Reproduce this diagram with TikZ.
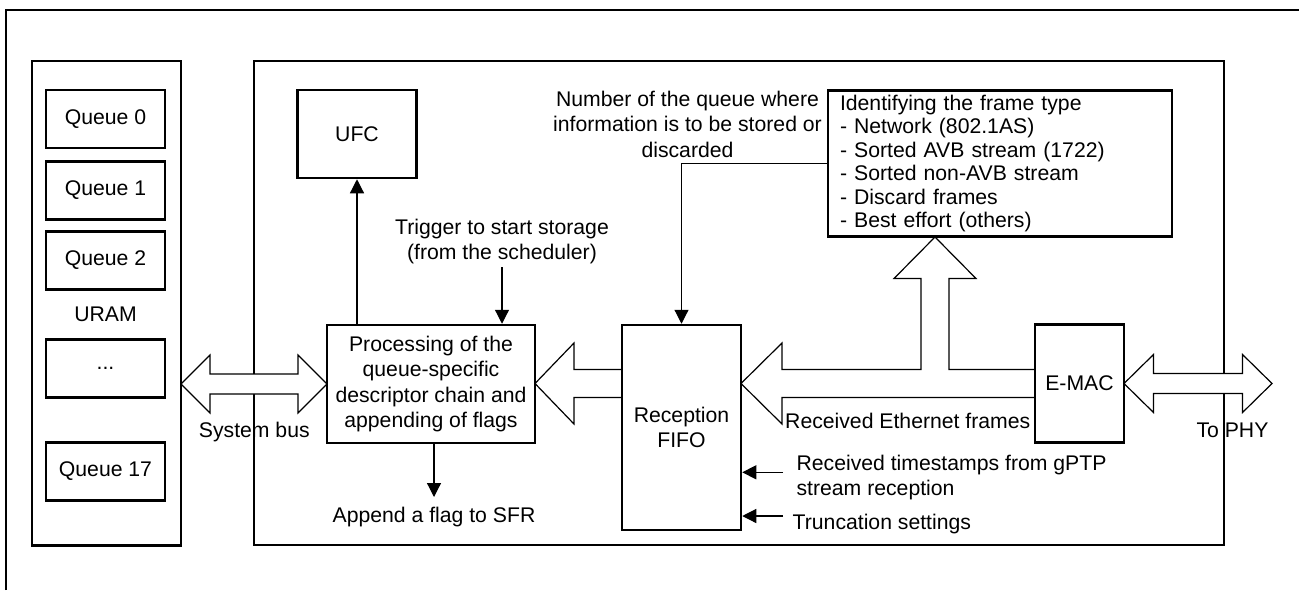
\documentclass[tikz,border=0pt]{standalone}
\usepackage{fontspec}
\setmainfont{Liberation Sans}
\usetikzlibrary{arrows.meta}
\begin{document}
\begin{tikzpicture}[x=1pt,y=-1pt,
  every node/.style={font=\fontsize{21.2}{25.5}\selectfont, inner sep=0pt},
  box/.style={draw, line width=2.5pt, inner sep=0pt, align=center},
  conn/.style={line width=1.2pt, -{Triangle[length=14pt,width=14pt]}},
  hollow/.style={draw, fill=white, line width=1.2pt, line join=miter},
  frameline/.style={line width=2.6pt}]
\useasboundingbox (0,0) rectangle (1299,590);

% outer frame (top and left edges)
\draw[frameline] (6,590) -- (6,10) -- (1299,10);

% containers
\node[box, minimum width=149pt, minimum height=484.5pt] (uram) at (106.5,303.25) {};
\node[box, minimum width=970pt, minimum height=484pt] (main) at (739,303) {};

% hollow (block) arrows
\coordinate (busL) at (181,384);
\coordinate (busR) at (327,384);
\draw[hollow] (busL) -- (210,355) -- (210,374) -- (298,374) -- (298,355) -- (busR)
  -- (298,413) -- (298,394) -- (210,394) -- (210,413) -- cycle;

\coordinate (fpTip) at (535,383.5);
\draw[hollow] (fpTip) -- (574,343) -- (574,369.5) -- (622,369.5) -- (622,397.5)
  -- (574,397.5) -- (574,424) -- cycle;

\coordinate (efTip) at (741,383.5);
\coordinate (upTip) at (935,237);
\draw[hollow] (efTip) -- (782,343) -- (782,369.5) -- (921,369.5) -- (921,278.5)
  -- (894,278.5) -- (upTip) -- (976,278.5) -- (949,278.5) -- (949,369.5)
  -- (1035,369.5) -- (1035,397.5) -- (782,397.5) -- (782,424) -- cycle;

\coordinate (phyL) at (1124,383.5);
\coordinate (phyR) at (1272,383.5);
\draw[hollow] (phyL) -- (1153.5,354.5) -- (1153.5,373.5) -- (1242.5,373.5) -- (1242.5,354.5)
  -- (phyR) -- (1242.5,412.5) -- (1242.5,393.5) -- (1153.5,393.5) -- (1153.5,412.5) -- cycle;

% URAM content
\node[box, minimum width=119pt, minimum height=58pt] (q0) at (105.5,119) {Queue 0};
\node[box, minimum width=119pt, minimum height=58pt] (q1) at (105.5,190.5) {Queue 1};
\node[box, minimum width=119pt, minimum height=58pt] (q2) at (105.5,260.5) {Queue 2};
\node (uramlbl) at (105.5,314) {URAM};
\node[box, minimum width=119pt, minimum height=58pt] (qd) at (105.5,368.5) {...};
\node[box, minimum width=119pt, minimum height=58pt] (q17) at (105.5,471.5) {Queue 17};

% blocks
\node[box, minimum width=119pt, minimum height=88pt] (ufc) at (357,134) {UFC};
\node[box, minimum width=208pt, minimum height=118pt] (proc) at (431,384)
  {Processing of the\\queue-specific\\descriptor chain and\\appending of flags};
\node[box, minimum width=119pt, minimum height=205pt] (fifo) at (681.5,427.5) {Reception\\FIFO};
\node[box, minimum width=344pt, minimum height=146pt, align=left, text width=320pt,
  inner xsep=12pt, font=\fontsize{21.2}{23.5}\selectfont] (ftype) at (1000,163.7)
  {Identifying the frame type\\- Network (802.1AS)\\- Sorted AVB stream (1722)\\- Sorted non-AVB stream\\- Discard frames\\- Best effort (others)};
\node[box, minimum width=89pt, minimum height=118pt] (emac) at (1079.5,383.3) {E-MAC};

% labels
\node[align=center] (numq) at (687.5,124) {Number of the queue where\\information is to be stored or\\discarded};
\node[align=center] (trig) at (502,241.5) {Trigger to start storage\\(from the scheduler)};
\node (append) at (434,517) {Append a flag to SFR};
\node (sysbus) at (254.3,432) {System bus};
\node (tophy) at (1232.5,430) {To PHY};
\node[anchor=west] (rxeth) at (785,421) {Received Ethernet frames};
\node[anchor=west, align=left] (ts) at (796.4,477.3) {Received timestamps from gPTP\\stream reception};
\node[anchor=west] (trunc) at (792.5,523.7) {Truncation settings};

% connectors
\draw[conn] (ufc.south |- proc.north) -- (ufc.south);
\coordinate (trigS) at (502,267);
\draw[conn] (trigS) -- (trigS |- proc.north);
\coordinate (appN) at (434,497);
\draw[conn] (appN |- proc.south) -- (appN);
\draw[conn] (ftype.west) -| (fifo.north);
\coordinate (tsS) at (783,472.3);
\draw[conn] (tsS) -- (tsS -| fifo.east);
\coordinate (trS) at (783,516);
\draw[conn] (trS) -- (trS -| fifo.east);
\end{tikzpicture}
\end{document}
